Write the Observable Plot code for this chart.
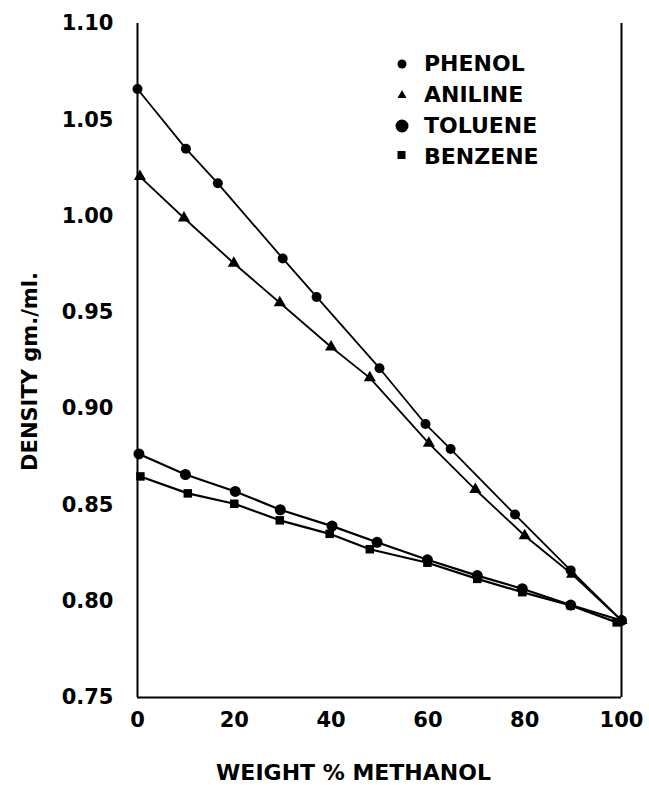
<!DOCTYPE html>
<html>
<head>
<meta charset="utf-8">
<script src="https://cdn.jsdelivr.net/npm/d3@7"></script>
<script src="https://cdn.jsdelivr.net/npm/@observablehq/plot@0.6"></script>
<style>
  html, body { margin: 0; padding: 0; background: #fff; }
  #wrap { position: relative; width: 649px; height: 792px; font-family: "DejaVu Sans", sans-serif; }
  #legend { position: absolute; left: 392px; top: 48px; font-weight: bold; font-size: 22px; color: #000; }
  #legend .row { display: flex; align-items: center; height: 31px; }
  #legend svg { width: 24px; height: 20px; margin-right: 8px; }
</style>
</head>
<body>
<div id="wrap"></div>
<script>
// Weight % methanol (x) and density gm./ml. (y)
const phenolX = [0, 10, 16.6, 30, 37, 50, 59.5, 64.7, 78, 89.5, 100];
const phenolY = [1.066, 1.035, 1.017, 0.978, 0.958, 0.921, 0.892, 0.879, 0.845, 0.816, 0.790];
const anilineX = [0.5, 9.6, 19.9, 29.4, 40, 48, 60.2, 69.8, 80, 89.8, 100];
const anilineY = [1.0205, 0.999, 0.9755, 0.955, 0.932, 0.916, 0.882, 0.858, 0.834, 0.814, 0.790];
const tolueneX = [0.3, 9.9, 20.2, 29.5, 40.2, 49.5, 59.9, 70.2, 79.5, 89.5, 100];
const tolueneY = [0.8765, 0.8658, 0.857, 0.8475, 0.839, 0.8306, 0.8215, 0.8133, 0.8065, 0.798, 0.790];
const benzeneX = [0.6, 10.4, 20, 29.4, 39.7, 48, 59.9, 70.2, 79.5, 89.5, 99];
const benzeneY = [0.8648, 0.856, 0.8506, 0.842, 0.835, 0.827, 0.820, 0.8116, 0.8047, 0.7978, 0.789];

const xTicks = [0, 20, 40, 60, 80, 100];
const yTicks = [0.75, 0.80, 0.85, 0.90, 0.95, 1.00, 1.05, 1.10];
const legendNames = ["PHENOL", "ANILINE", "TOLUENE", "BENZENE"];

const toRows = (xs, ys) => xs.map((x, i) => ({x, y: ys[i]}));
const phenol = toRows(phenolX, phenolY);
const aniline = toRows(anilineX, anilineY);
const toluene = toRows(tolueneX, tolueneY);
const benzene = toRows(benzeneX, benzeneY);

const font = {fontFamily: "DejaVu Sans", fontWeight: "bold"};

const chart = Plot.plot({
  width: 649,
  height: 792,
  marginLeft: 137,
  marginRight: 28,
  marginTop: 23,
  marginBottom: 95,
  style: {background: "#fff", color: "#000", fontFamily: "DejaVu Sans", overflow: "visible"},
  x: {domain: [0, 100]},
  y: {domain: [0.75, 1.10]},
  marks: [
    Plot.axisX({ticks: xTicks, tickSize: 0, tickPadding: 15, fontSize: 21, fontWeight: "bold", tickFormat: d => String(d), label: null}),
    Plot.axisY({ticks: yTicks, tickSize: 0, tickPadding: 24, fontSize: 21, fontWeight: "bold", tickFormat: d3.format(".2f"), label: null}),
    Plot.ruleX([0, 100], {stroke: "#000", strokeWidth: 2}),
    Plot.ruleY([0.75], {stroke: "#000", strokeWidth: 2}),
    Plot.line(phenol, {x: "x", y: "y", stroke: "#000", strokeWidth: 1.8}),
    Plot.line(aniline, {x: "x", y: "y", stroke: "#000", strokeWidth: 1.8}),
    Plot.line(toluene, {x: "x", y: "y", stroke: "#000", strokeWidth: 2.2}),
    Plot.line(benzene, {x: "x", y: "y", stroke: "#000", strokeWidth: 2.2}),
    Plot.dot(phenol, {x: "x", y: "y", r: 5, fill: "#000", symbol: "circle"}),
    Plot.dot(aniline, {x: "x", y: "y", r: 4.5, fill: "#000", symbol: "triangle"}),
    Plot.dot(toluene, {x: "x", y: "y", r: 5.5, fill: "#000", symbol: "circle"}),
    Plot.dot(benzene, {x: "x", y: "y", r: 4.8, fill: "#000", symbol: "square"}),
    Plot.text(["DENSITY gm./ml."], {frameAnchor: "left", dx: -107, dy: 11, rotate: -90, textAnchor: "middle", lineAnchor: "middle", fontSize: 21, ...font, fill: "#000"}),
    Plot.text(["WEIGHT % METHANOL"], {frameAnchor: "bottom", dx: -26, dy: 75, textAnchor: "middle", lineAnchor: "middle", fontSize: 22, ...font, fill: "#000"})
  ]
});

const wrap = document.getElementById("wrap");
wrap.appendChild(chart);

// Legend
const symbols = [
  '<circle cx="10" cy="10" r="4.5" fill="#000"/>',
  '<path d="M10,5 L14.5,13 L5.5,13 Z" fill="#000"/>',
  '<circle cx="10" cy="10" r="6.5" fill="#000"/>',
  '<rect x="5.5" y="4" width="8" height="8" fill="#000"/>'
];
const legend = document.createElement("div");
legend.id = "legend";
legendNames.forEach((name, i) => {
  const row = document.createElement("div");
  row.className = "row";
  row.innerHTML = `<svg viewBox="0 0 24 20">${symbols[i]}</svg><span>${name}</span>`;
  legend.appendChild(row);
});
wrap.appendChild(legend);
</script>
</body>
</html>
